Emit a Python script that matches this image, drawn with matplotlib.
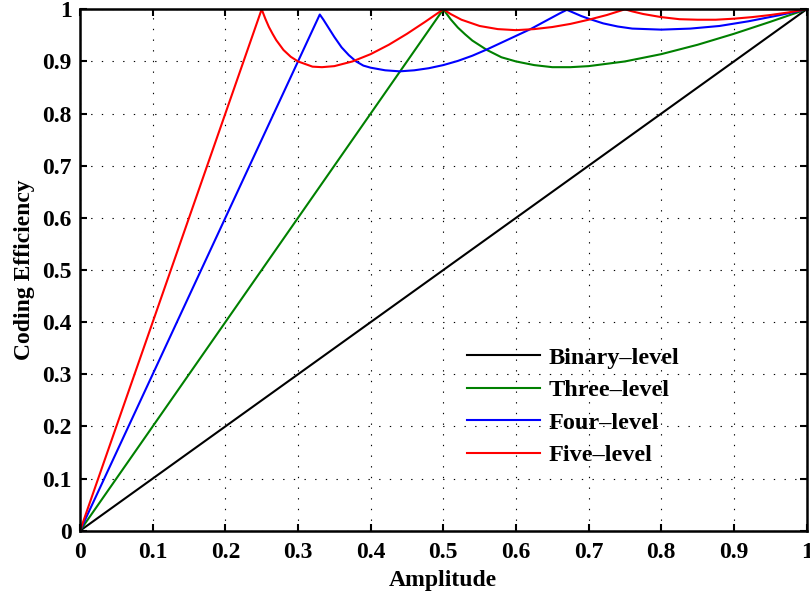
import numpy as np
import matplotlib
matplotlib.use("Agg")
import matplotlib.pyplot as plt

# values
amp_binary = [0.0, 1.0]
eff_binary = [0.0, 1.0]

amp_three = [0.0, 0.5, 0.51, 0.52, 0.53, 0.54, 0.56, 0.58, 0.60, 0.625, 0.65, 0.675,
             0.70, 0.75, 0.80, 0.85, 0.90, 0.95, 1.0]
eff_three = [0.0, 1.0, 0.981, 0.965, 0.952, 0.940, 0.922, 0.908, 0.900, 0.893, 0.889, 0.889,
             0.891, 0.900, 0.914, 0.932, 0.953, 0.976, 1.0]

amp_four = [0.0, 0.33, 0.335, 0.34, 0.345, 0.35, 0.355, 0.36, 0.37, 0.38, 0.39, 0.40, 0.42,
            0.44, 0.46, 0.48, 0.50, 0.52, 0.54, 0.56, 0.58, 0.60, 0.62, 0.64, 0.66, 0.67,
            0.68, 0.69, 0.70, 0.72, 0.74, 0.76, 0.78, 0.80, 0.84, 0.88, 0.92, 0.96, 1.0]
eff_four = [0.0, 0.99, 0.98, 0.969, 0.958, 0.947, 0.937, 0.927, 0.912, 0.900, 0.892, 0.888,
            0.883, 0.881, 0.883, 0.887, 0.893, 0.901, 0.911, 0.923, 0.936, 0.949, 0.962,
            0.977, 0.992, 0.999, 0.993, 0.987, 0.982, 0.973, 0.967, 0.963, 0.962, 0.961,
            0.963, 0.968, 0.977, 0.988, 1.0]

amp_five = [0.0, 0.25, 0.255, 0.26, 0.265, 0.27, 0.28, 0.29, 0.30, 0.32, 0.333, 0.35, 0.375,
            0.40, 0.425, 0.45, 0.475, 0.50, 0.51, 0.525, 0.55, 0.575, 0.60, 0.625, 0.65,
            0.675, 0.70, 0.725, 0.75, 0.76, 0.775, 0.80, 0.825, 0.85, 0.875, 0.90, 0.925,
            0.95, 0.975, 1.0]
eff_five = [0.0, 1.0, 0.982, 0.966, 0.953, 0.941, 0.922, 0.909, 0.900, 0.890, 0.889, 0.891,
            0.900, 0.914, 0.932, 0.953, 0.976, 1.0, 0.991, 0.980, 0.968, 0.962, 0.960,
            0.962, 0.966, 0.972, 0.980, 0.989, 1.0, 0.996, 0.991, 0.985, 0.981, 0.980,
            0.980, 0.982, 0.985, 0.989, 0.994, 1.0]

labels = ["Binary\u2013level", "Three\u2013level", "Four\u2013level", "Five\u2013level"]
colors = ["black", "#008000", "blue", "red"]

tick_vals = [0, 0.1, 0.2, 0.3, 0.4, 0.5, 0.6, 0.7, 0.8, 0.9, 1]
tick_text = ["0", "0.1", "0.2", "0.3", "0.4", "0.5", "0.6", "0.7", "0.8", "0.9", "1"]

plt.rcParams["font.family"] = ["Liberation Serif", "DejaVu Serif"]
plt.rcParams["font.weight"] = "bold"

fig = plt.figure(figsize=(8.1, 5.92), dpi=100)
ax = fig.add_axes([0.0988, 0.1035, 0.897, 0.8808])

series = [(amp_binary, eff_binary), (amp_three, eff_three),
          (amp_four, eff_four), (amp_five, eff_five)]
for (x, y), lab, c in zip(series, labels, colors):
    ax.plot(x, y, color=c, lw=1.5, label=lab)

ax.set_xlim(0, 1)
ax.set_ylim(0, 1)
ax.set_xticks(tick_vals)
ax.set_xticklabels(tick_text)
ax.set_yticks(tick_vals)
ax.set_yticklabels(tick_text)
ax.tick_params(direction="in", length=5, width=1.5, labelsize=17, pad=6,
               top=True, right=True)
ax.tick_params(axis="x", pad=8)
for s in ax.spines.values():
    s.set_linewidth(1.8)

ax.grid(True, color="black", lw=0.8, linestyle=(0, (1.2, 8.4)))

ax.set_xlabel("Amplitude", fontsize=17, fontweight="bold", labelpad=5)
ax.set_ylabel("Coding Efficiency", fontsize=17, fontweight="bold", labelpad=5)

leg = ax.legend(loc="upper left", bbox_to_anchor=(0.533, 0.353), frameon=False,
                fontsize=17.5, handlelength=3.0, handletextpad=0.35,
                labelspacing=0.43, borderpad=0, borderaxespad=0)

fig.savefig("out.png", dpi=100)
